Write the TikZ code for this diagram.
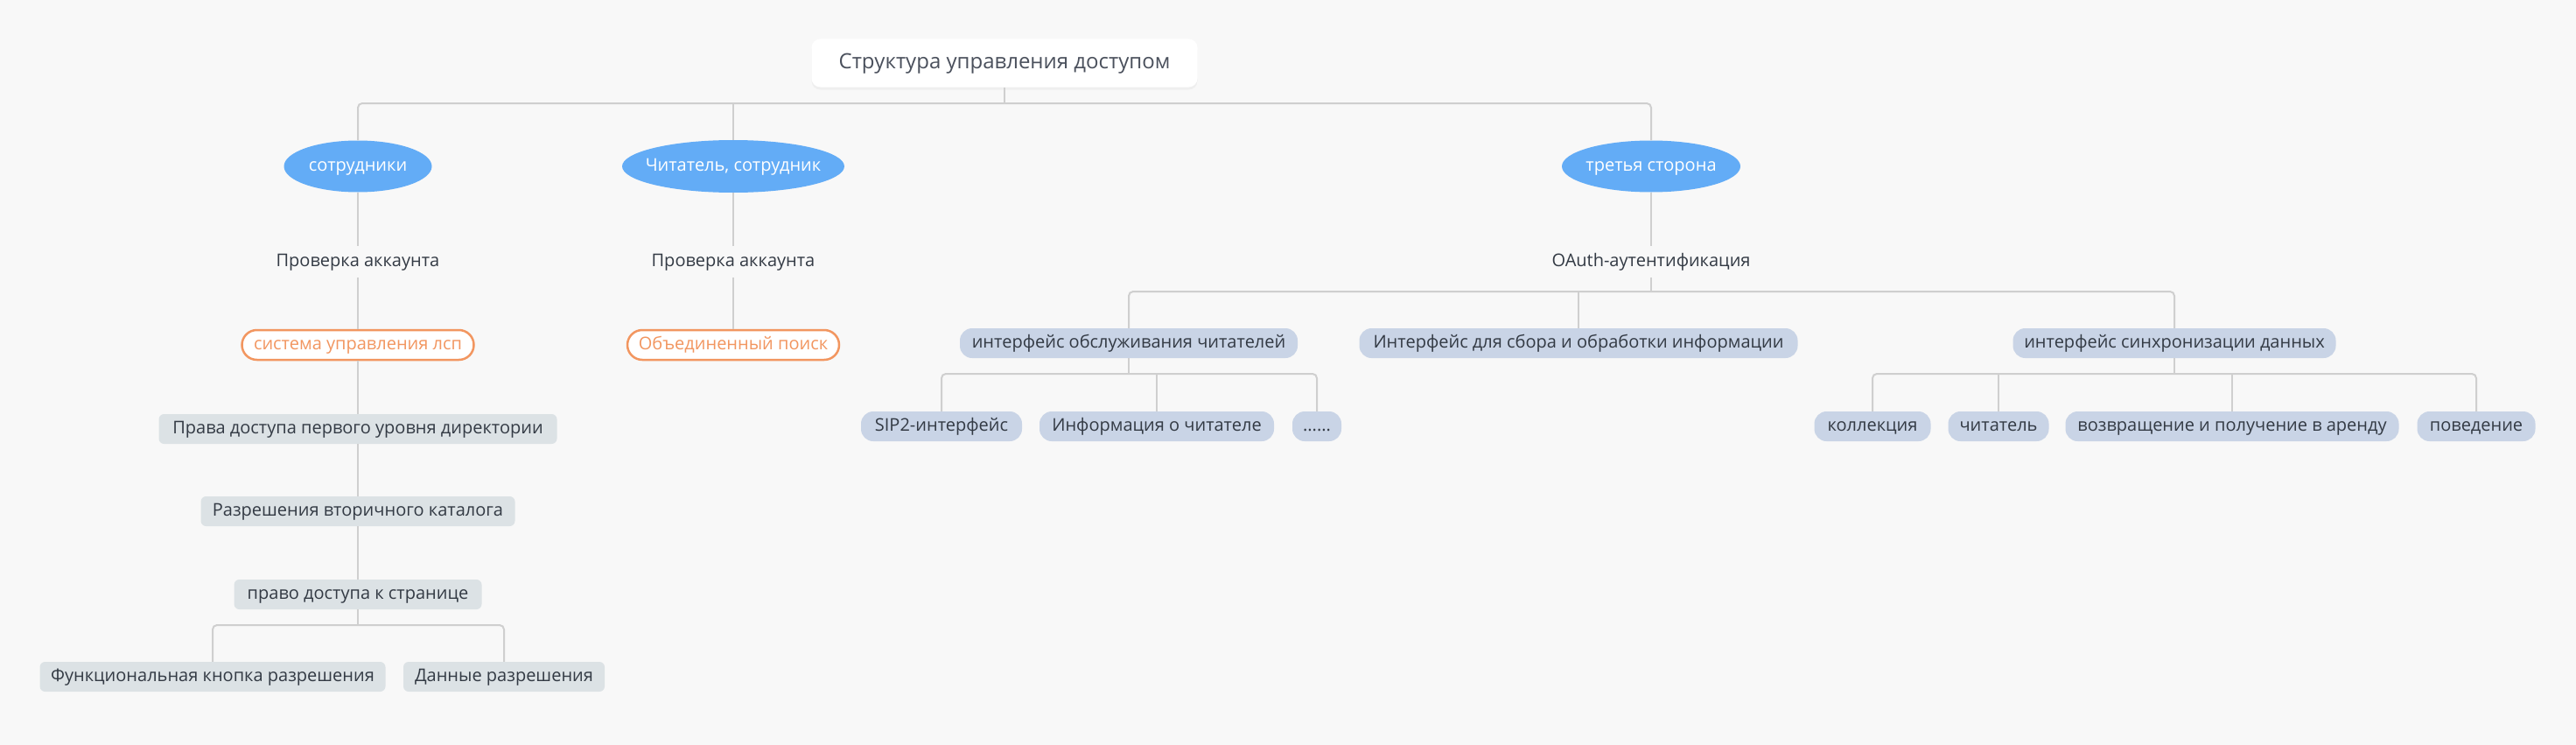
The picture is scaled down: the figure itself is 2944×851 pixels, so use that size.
\documentclass[tikz,border=0pt]{standalone}
\usepackage{fontspec}
\setmainfont{Open Sans}
\usepackage{xcolor}
\usepackage{tikz}
\usetikzlibrary{shapes.geometric,shadows}
\definecolor{bg}{HTML}{F8F8F8}
\definecolor{ink}{HTML}{333A44}
\definecolor{rootink}{HTML}{4A505C}
\definecolor{wire}{HTML}{CFCFCF}
\definecolor{sky}{HTML}{63ACF6}
\definecolor{peach}{HTML}{F29660}
\definecolor{slate}{HTML}{C9D4E6}
\definecolor{mist}{HTML}{DCE2E5}
\tikzset{
  conn/.style={draw=wire, line width=2pt, rounded corners=5pt},
  txt/.style={font=\fontsize{20}{24}\selectfont, text height=14pt, text depth=4pt},
  top/.style={fill=white, rounded corners=10pt, text=rootink, font=\fontsize{24}{28}\selectfont,
    text height=17pt, text depth=5pt, minimum width=441pt, minimum height=55pt,
    drop shadow={opacity=0.07, shadow xshift=0pt, shadow yshift=-3pt}},
  oval/.style={txt, ellipse, fill=sky, text=white, inner xsep=-12pt, inner ysep=0pt},
  plain/.style={txt, text=ink, inner sep=0pt, minimum height=35pt},
  ring/.style={txt, draw=peach, line width=2.5pt, fill=white, text=peach, rounded corners=17pt,
    minimum height=34pt, inner xsep=4pt},
  pill/.style={txt, fill=slate, text=ink, rounded corners=14pt, minimum height=34pt, inner xsep=4pt},
  tag/.style={txt, fill=mist, text=ink, rounded corners=6pt, minimum height=34pt, inner xsep=4pt},
}

\begin{document}
\begin{tikzpicture}[x=1pt, y=-1pt]
  \fill[bg] (0,0) rectangle (2944,851);
  \useasboundingbox (0,0) rectangle (2944,851);
  % root and first level
  \node[top] (root) at (1148,72) {Структура управления доступом};
  \node[oval, minimum width=169pt, minimum height=59pt] (emp) at (409,190) {сотрудники};
  \node[oval, minimum width=254pt, minimum height=60pt] (rdr) at (838,190) {Читатель, сотрудник};
  \node[oval, minimum width=204pt, minimum height=59pt] (third) at (1887,190) {третья сторона};
  \coordinate (b1) at (0,118);
  \draw[conn] (emp.north) |- (third.north |- b1) -- (third.north);
  \draw[conn] (root.south) -- (root.south |- b1);
  \draw[conn] (rdr.north) -- (rdr.north |- b1);
  % account check
  \node[plain] (chk1) at (409,299) {Проверка аккаунта};
  \node[plain] (chk2) at (838,299) {Проверка аккаунта};
  \node[plain] (oauth) at (1887,299) {OAuth-аутентификация};
  \draw[conn] (emp) -- (chk1);
  \draw[conn] (rdr) -- (chk2);
  \draw[conn] (third) -- (oauth);
  % left column
  \node[ring, minimum width=265pt] (lsp) at (409,394) {система управления лсп};
  \node[ring, minimum width=242pt] (fed) at (838,394) {Объединенный поиск};
  \draw[conn] (chk1) -- (lsp);
  \draw[conn] (chk2) -- (fed);
  \node[tag, minimum width=455pt] (lvl1) at (409,490) {Права доступа первого уровня директории};
  \node[tag, minimum width=359pt] (lvl2) at (409,584) {Разрешения вторичного каталога};
  \node[tag, minimum width=283pt] (page) at (409,679) {право доступа к странице};
  \draw[conn] (lsp) -- (lvl1);
  \draw[conn] (lvl1) -- (lvl2);
  \draw[conn] (lvl2) -- (page);
  \node[tag, minimum width=395pt] (btn) at (243,773) {Функциональная кнопка разрешения};
  \node[tag, minimum width=230pt] (data) at (576,773) {Данные разрешения};
  \coordinate (b3) at (0,714);
  \draw[conn] (btn.north) |- (data.north |- b3) -- (data.north);
  \draw[conn] (page.south) -- (page.south |- b3);
  % interfaces
  \node[pill, minimum width=386pt] (svc) at (1290,392) {интерфейс обслуживания читателей};
  \node[pill, minimum width=501pt] (gather) at (1804,392) {Интерфейс для сбора и обработки информации};
  \node[pill, minimum width=369pt] (sync) at (2485,392) {интерфейс синхронизации данных};
  \coordinate (b2) at (0,333);
  \draw[conn] (svc.north) |- (sync.north |- b2) -- (sync.north);
  \draw[conn] (oauth.south) -- (oauth.south |- b2);
  \draw[conn] (gather.north) -- (gather.north |- b2);
  % leaves
  \coordinate (b4) at (0,427);
  \node[pill, minimum width=184pt] (sip) at (1076,487) {SIP2-интерфейс};
  \node[pill, minimum width=268pt] (rinfo) at (1322,487) {Информация о читателе};
  \node[pill, minimum width=56pt] (more) at (1505,487) {......};
  \draw[conn] (sip.north) |- (more.north |- b4) -- (more.north);
  \draw[conn] (svc.south) -- (svc.south |- b4);
  \draw[conn] (rinfo.north) -- (rinfo.north |- b4);
  \node[pill, minimum width=133pt] (coll) at (2140,487) {коллекция};
  \node[pill, minimum width=115pt] (reader) at (2284,487) {читатель};
  \node[pill, minimum width=381pt] (loan) at (2551,487) {возвращение и получение в аренду};
  \node[pill, minimum width=135pt] (behav) at (2830,487) {поведение};
  \draw[conn] (coll.north) |- (behav.north |- b4) -- (behav.north);
  \draw[conn] (sync.south) -- (sync.south |- b4);
  \draw[conn] (reader.north) -- (reader.north |- b4);
  \draw[conn] (loan.north) -- (loan.north |- b4);
\end{tikzpicture}
\end{document}
